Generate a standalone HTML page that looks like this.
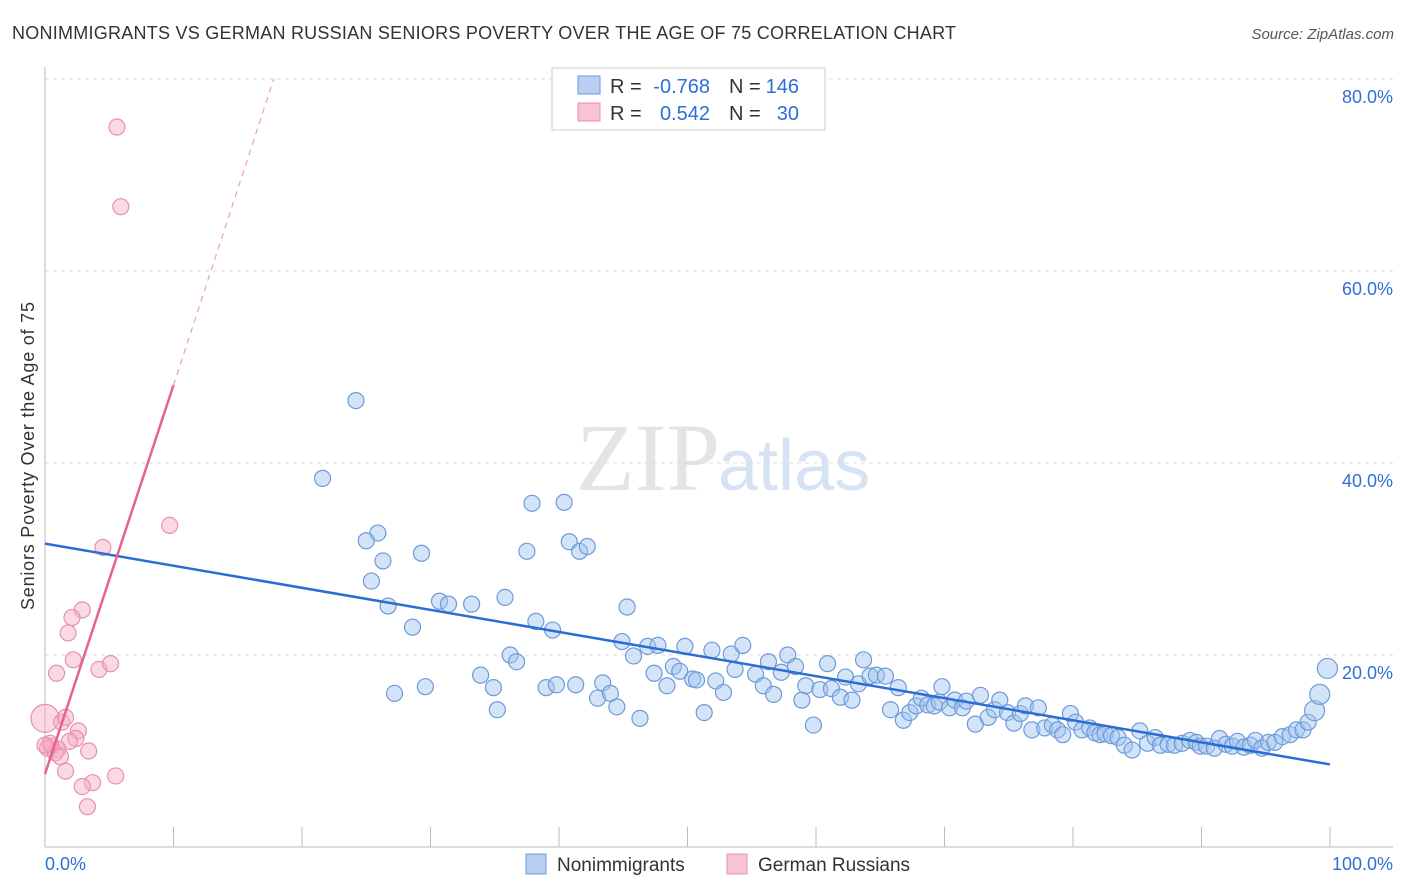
<!DOCTYPE html>
<html><head><meta charset="utf-8">
<style>
body{margin:0;background:#fff;font-family:"Liberation Sans",sans-serif;}
svg{display:block}
</style></head>
<body>
<svg id="chart" width="1406" height="892">
<text x="12" y="39" font-size="18" fill="#333" textLength="944">NONIMMIGRANTS VS GERMAN RUSSIAN SENIORS POVERTY OVER THE AGE OF 75 CORRELATION CHART</text>
<text x="1394" y="39" font-size="15" fill="#555" font-style="italic" text-anchor="end">Source: ZipAtlas.com</text>
<text x="34" y="456" font-size="18" fill="#333" text-anchor="middle" textLength="308" transform="rotate(-90 34 456)">Seniors Poverty Over the Age of 75</text>
<text x="720" y="490" font-size="96" fill="#e4e4e4" font-family="Liberation Serif,serif" text-anchor="end">ZIP</text>
<text x="718" y="490" font-size="72" fill="#d6e3f5">atlas</text>
<g id="grid"></g>
<g id="axes"></g>
<g id="pts"></g>
<g id="trends"></g>
<g>
<rect x="552" y="68" width="273" height="62" fill="#fff" stroke="#ccc"/>
<rect x="578" y="76" width="22" height="18" fill="#b8d1f3" stroke="#6f9ad8"/>
<rect x="578" y="103" width="22" height="18" fill="#f9c4d2" stroke="#e891ab"/>
<text x="610" y="93" font-size="20" fill="#333">R =</text>
<text x="710" y="93" font-size="20" fill="#2e6fd6" text-anchor="end">-0.768</text>
<text x="729" y="93" font-size="20" fill="#333">N =</text>
<text x="799" y="93" font-size="20" fill="#2e6fd6" text-anchor="end">146</text>
<text x="610" y="120" font-size="20" fill="#333">R =</text>
<text x="710" y="120" font-size="20" fill="#2e6fd6" text-anchor="end">0.542</text>
<text x="729" y="120" font-size="20" fill="#333">N =</text>
<text x="799" y="120" font-size="20" fill="#2e6fd6" text-anchor="end">30</text>
</g>
<g>
<rect x="526" y="854" width="20" height="20" fill="#b8d1f3" stroke="#6f9ad8"/>
<text x="557" y="871" font-size="19" fill="#333">Nonimmigrants</text>
<rect x="727" y="854" width="20" height="20" fill="#f9c4d2" stroke="#e891ab"/>
<text x="758" y="871" font-size="19" fill="#333">German Russians</text>
</g>
<text x="45" y="870" font-size="18" fill="#2e6fd6">0.0%</text>
<text x="1393" y="870" font-size="18" fill="#2e6fd6" text-anchor="end">100.0%</text>
</svg>
<script>
const blueX=[24.2,21.6,25.9,25.0,26.3,29.3,25.4,26.7,28.6,27.2,
29.6,30.7,31.4,33.2,35.8,37.9,40.4,37.5,40.8,41.6,
42.2,38.2,39.5,33.9,34.9,35.2,36.2,36.7,39.0,39.8,
41.3,43.0,43.4,44.0,44.5,45.3,46.3,44.9,45.8,46.9,
47.7,47.4,48.4,48.9,49.4,49.8,50.4,50.7,51.3,51.9,
52.2,52.8,53.4,53.7,54.3,55.3,55.9,56.3,56.7,57.3,
57.8,58.4,58.9,59.2,59.8,60.3,60.9,61.2,61.9,62.3,
62.8,63.3,63.7,64.2,64.7,65.4,65.8,66.4,66.8,67.3,
67.8,68.2,68.7,69.2,69.6,69.8,70.4,70.8,71.4,71.7,
72.4,72.8,73.4,73.9,74.3,74.9,75.4,75.9,76.3,76.8,
77.3,77.8,78.4,78.8,79.2,79.8,80.2,80.7,81.3,81.7,
82.1,82.5,83.0,83.5,84.0,84.6,85.2,85.8,86.4,86.8,
87.4,87.9,88.5,89.1,89.6,89.9,90.4,91.0,91.4,91.9,
92.4,92.8,93.3,93.8,94.2,94.7,95.2,95.7,96.3,96.9,
97.4,97.9,98.3,98.8,99.2,99.8];
const blueY=[46.5,38.4,32.7,31.9,29.8,30.6,27.7,25.1,22.9,16.0,
16.7,25.6,25.3,25.3,26.0,35.8,35.9,30.8,31.8,30.8,
31.3,23.5,22.6,17.9,16.6,14.3,20.0,19.3,16.6,16.9,
16.9,15.5,17.1,16.0,14.6,25.0,13.4,21.4,19.9,20.9,
21.0,18.1,16.8,18.8,18.3,20.9,17.5,17.4,14.0,20.5,
17.3,16.1,20.1,18.5,21.0,18.0,16.8,19.3,15.9,18.2,
20.0,18.8,15.3,16.8,12.7,16.4,19.1,16.5,15.6,17.7,
15.3,17.0,19.5,17.8,17.9,17.8,14.3,16.6,13.2,14.0,
14.7,15.5,14.8,14.7,15.1,16.7,14.5,15.3,14.5,15.2,
12.8,15.8,13.5,14.3,15.3,14.0,12.9,13.9,14.7,12.2,
14.5,12.4,12.7,12.2,11.7,13.9,13.0,12.2,12.4,11.9,
11.7,11.8,11.6,11.4,10.6,10.1,12.1,10.8,11.4,10.6,
10.7,10.6,10.8,11.1,10.9,10.5,10.5,10.3,11.3,10.7,
10.5,11.0,10.4,10.6,11.1,10.3,10.9,10.9,11.5,11.7,
12.2,12.2,13.0,14.2,15.9,18.6];
const pinkX=[5.6,5.9,9.7,4.5,2.9,2.1,1.8,0.9,2.2,4.2,5.1,0,1.3,1.6,2.6,2.4,1.9,0.5,1,0.2,0.8,1.2,3.4,1.6,5.5,3.7,2.9,3.3,0.4,0];
const pinkY=[75,66.7,33.5,31.2,24.7,23.9,22.3,18.1,19.5,18.5,19.1,13.4,13,13.5,12.1,11.3,11,10.5,10.2,10.3,9.8,9.4,10,7.9,7.4,6.7,6.3,4.2,10.8,10.6];
const yTicks=[20,40,60,80];
const xTicks=[0,10,20,30,40,50,60,70,80,90,100];
const blueTrend=[[0,31.6],[100,8.6]];
const pinkTrend=[[0,7.6],[10,48.1]];
const pinkDash=[[10,48.1],[17.8,80]];

const X=v=>45+v*12.85, Y=v=>847-v*9.6;
const NS="http://www.w3.org/2000/svg";
function mk(tag,attrs,parent){const e=document.createElementNS(NS,tag);for(const k in attrs)e.setAttribute(k,attrs[k]);parent.appendChild(e);return e;}
const grid=document.getElementById('grid'),axes=document.getElementById('axes'),pts=document.getElementById('pts'),tr=document.getElementById('trends');
yTicks.forEach(t=>{
 const l=mk('line',{x1:45,x2:1393,y1:Y(t),y2:Y(t),stroke:'#ddd','stroke-dasharray':'4,4'},grid);
 
 
 const tx=mk('text',{x:1393,y:Y(t)+24,'font-size':18,fill:'#2e6fd6','text-anchor':'end'},grid);
 tx.textContent=t.toFixed(1)+'%';
 
 
});
const ax=mk('line',{x1:45,x2:1393,y1:847,y2:847,stroke:'#bbb'},axes);


const ay=mk('line',{x1:45,x2:45,y1:67,y2:847,stroke:'#bbb'},axes);


xTicks.forEach(t=>{
 const l=mk('line',{x1:X(t),x2:X(t),y1:827,y2:847,stroke:'#bbb'},axes);
 
 
});
blueX.forEach((v,i)=>{
 const c=mk('circle',{cx:X(v),cy:Y(blueY[i]),r:(i>=blueX.length-3?10:8),fill:'rgba(160,196,240,0.45)',stroke:'#6f9ad8','stroke-width':1.2},pts);
 
 
});
pinkX.forEach((v,i)=>{
 const c=mk('circle',{cx:X(v),cy:Y(pinkY[i]),r:(i==11?14:8),fill:'rgba(245,170,192,0.45)',stroke:'#e891ab','stroke-width':1.2},pts);
 
 
});
const bt=mk('line',{x1:X(blueTrend[0][0]),y1:Y(blueTrend[0][1]),x2:X(blueTrend[1][0]),y2:Y(blueTrend[1][1]),stroke:'#2a6dd4','stroke-width':2.5},tr);


const pt=mk('line',{x1:X(pinkTrend[0][0]),y1:Y(pinkTrend[0][1]),x2:X(pinkTrend[1][0]),y2:Y(pinkTrend[1][1]),stroke:'#e8628e','stroke-width':2.5},tr);


const pd=mk('line',{x1:X(pinkDash[0][0]),y1:Y(pinkDash[0][1]),x2:X(pinkDash[1][0]),y2:Y(pinkDash[1][1]),stroke:'#eda0b8','stroke-width':1.2,'stroke-dasharray':'6,5'},tr);


</script>
</body></html>
